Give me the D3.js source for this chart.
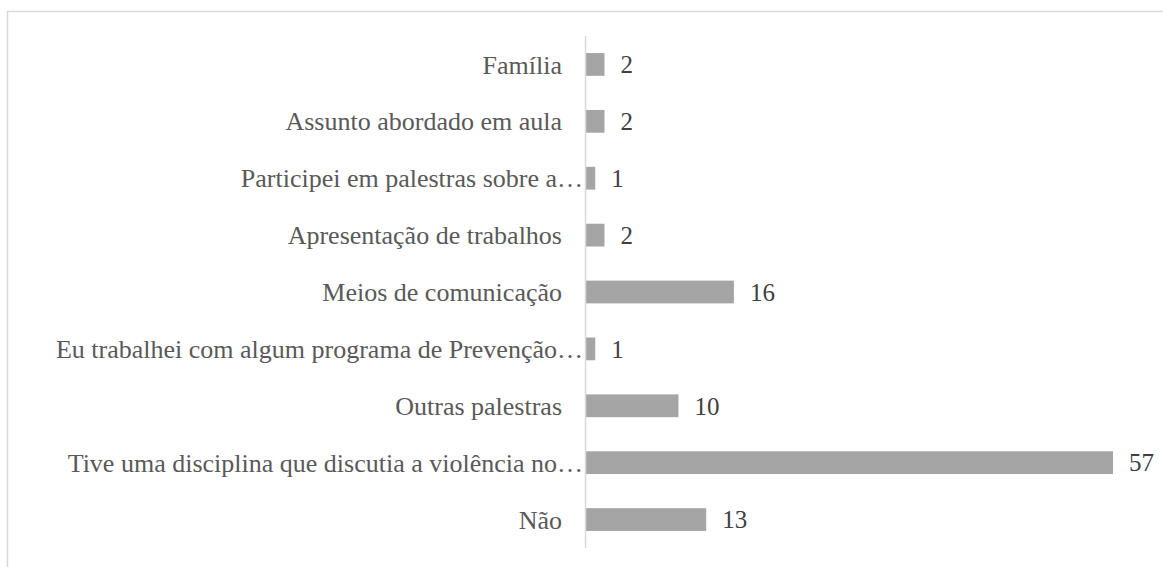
<!DOCTYPE html>
<html><head><meta charset="utf-8">
<script src="https://cdn.jsdelivr.net/npm/d3@7"></script>
<style>body{margin:0;background:#fff}svg{display:block}</style>
</head><body>
<svg id="c" width="1163" height="567"></svg>
<script>
const categories = ["Família","Assunto abordado em aula","Participei em palestras sobre a…","Apresentação de trabalhos","Meios de comunicação","Eu trabalhei com algum programa de Prevenção…","Outras palestras","Tive uma disciplina que discutia a violência no…","Não"];
const values = [2,2,1,2,16,1,10,57,13];

const svg = d3.select("#c");
svg.append("rect").attr("x",7.5).attr("y",11.5).attr("width",1170).attr("height",570)
  .attr("fill","none").attr("stroke","#d9d9d9").attr("stroke-width",1.5);

const x0 = 586, plotTop = 36, plotBottom = 548;
const x = d3.scaleLinear().domain([0,57]).range([x0, 1113]);
const y = d3.scaleBand().domain(categories).range([plotTop,plotBottom]).paddingInner(0.6).paddingOuter(0.3);

svg.append("g").selectAll("rect").data(categories).join("rect")
  .attr("x", x(0)).attr("y", d=>y(d))
  .attr("width", (d,i)=>x(values[i])-x(0)).attr("height", y.bandwidth())
  .attr("fill","#a5a5a5");

svg.append("line").attr("x1",585.5).attr("x2",585.5).attr("y1",plotTop).attr("y2",plotBottom)
  .attr("stroke","#d9d9d9").attr("stroke-width",1.5);

svg.append("g").selectAll("text").data(categories).join("text")
  .attr("x", d=>d.endsWith("…")?583:562).attr("y", d=>y(d)+y.bandwidth()/2).attr("dy","0.35em")
  .attr("text-anchor","end").attr("fill","#595959")
  .style("font-family",'"Liberation Serif"').style("font-size","26px")
  .text(d=>d);

svg.append("g").selectAll("text").data(categories).join("text")
  .attr("x", (d,i)=>x(values[i])+16).attr("y", d=>y(d)+y.bandwidth()/2).attr("dy","0.35em")
  .attr("fill","#404040")
  .style("font-family",'"Liberation Serif"').style("font-size","25px")
  .text((d,i)=>values[i]);
</script>
</body></html>
